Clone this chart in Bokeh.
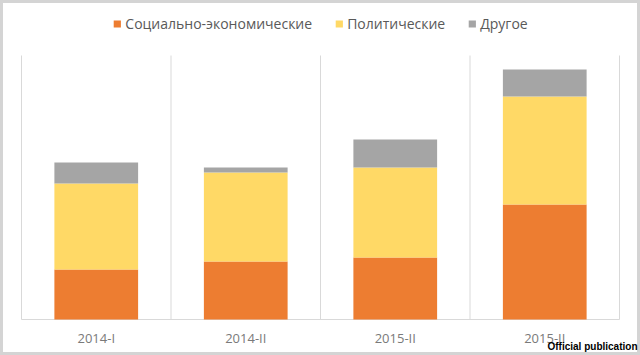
from bokeh.plotting import figure
from bokeh.models import Range1d, Label, ColumnDataSource
from bokeh.core.properties import value
from bokeh.embed import file_html
from bokeh.resources import INLINE

# ---- data (arbitrary units) ----
categories = ["2014-I", "2014-II", "2015-II", "2015-II"]
socio = [50, 58, 62, 115]      # Социально-экономические
polit = [86, 89, 90, 108]      # Политические
other = [21, 5, 28, 27]        # Другое
series_names = ["Социально-экономические", "Политические", "Другое"]

# ---- styles / layout ----
colors = ["#ED7D31", "#FFD966", "#A5A5A5"]
grid_color = "#D9D9D9"
grid_top = 264          # height of the category separators
label_y = -18           # x labels below the baseline
px = 4 / 598            # data units per pixel along x

n = len(categories)
xs = [i + 0.5 for i in range(n)]
source = ColumnDataSource(dict(x=xs, socio=socio, polit=polit, other=other,
                               label=categories, ly=[label_y] * n))

p = figure(width=640, height=355, output_backend="svg", toolbar_location=None,
           x_range=Range1d(-21 * px, n + 21 * px), y_range=Range1d(-36, 319),
           x_axis_type=None, y_axis_type=None,
           min_border_left=0, min_border_right=0, min_border_top=0,
           min_border_bottom=0)
p.outline_line_color = "#d4d4d4"
p.outline_line_width = 5
p.xgrid.visible = False
p.ygrid.visible = False

# category separators and baseline
bounds = list(range(n + 1))
p.segment(x0=bounds, y0=[0] * len(bounds), x1=bounds, y1=[grid_top] * len(bounds),
          line_color=grid_color, line_width=1)
p.segment(x0=[0], y0=[0], x1=[n], y1=[0], line_color=grid_color, line_width=1)

p.vbar_stack(["socio", "polit", "other"], x="x", width=0.56, color=colors,
             line_color=None, source=source, legend_label=series_names)

p.text(x="x", y="ly", text="label", source=source, text_align="center",
       text_baseline="middle", text_font=value("Open Sans"),
       text_font_size="13px", text_color="#7a7a7a")

lg = p.legend[0]
lg.orientation = "horizontal"
lg.location = "top_center"
lg.border_line_color = None
lg.background_fill_alpha = 0
lg.label_text_font = "Open Sans"
lg.label_text_font_size = "14px"
lg.label_text_color = "#595959"
lg.glyph_width = 9
lg.glyph_height = 9
lg.label_standoff = 4
lg.spacing = 22
lg.margin = 14
lg.padding = 0
lg.label_height = 18

p.add_layout(Label(x=n + 18 * px, y=-27,
                   text="Official publication",
                   text_align="right", text_baseline="middle",
                   text_font="Liberation Sans", text_font_style="bold",
                   text_font_size="10px", text_color="black"))

open("out.html", "w").write(file_html(p, INLINE))
